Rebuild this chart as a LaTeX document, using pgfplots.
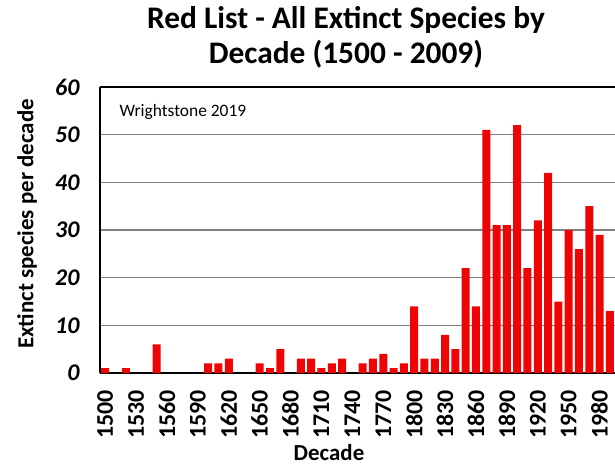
\documentclass[border=0pt]{standalone}
\usepackage{fontspec}
\setmainfont{Carlito}
\usepackage{pgfplots}
\pgfplotsset{compat=1.18}
\definecolor{barred}{RGB}{238,4,4}
\definecolor{gridgray}{RGB}{128,128,128}
\begin{document}
\begin{tikzpicture}
\begin{axis}[
  at={(0,0)}, anchor=south west,
  scale only axis,
  width=515bp, height=286bp,
  xmin=-0.5, xmax=49.5,
  ymin=0, ymax=60,
  ytick={0,10,...,60},
  xtick={0,3,...,48},
  xticklabels={1500,1530,1560,1590,1620,1650,1680,1710,1740,1770,1800,1830,1860,1890,1920,1950,1980},
  /pgf/number format/assume math mode=true,
  axis x line*=bottom, axis y line*=left,
  axis line style={black, line width=1.4bp, -},
  ymajorgrids, grid style={gridgray, line width=1.2bp},
  major tick length=0pt,
  xticklabel style={rotate=90, anchor=east, font=\fontsize{24}{24}\selectfont\bfseries, xshift=-14bp},
  yticklabel style={anchor=east, font=\fontsize{24}{24}\selectfont\bfseries\itshape, xshift=-17bp},
  ybar, bar width=8bp, bar shift=0pt,
  clip=false,
]
\addplot[fill=barred, draw=none] coordinates {
(0,1) (2,1) (5,6) (10,2) (11,2) (12,3) (15,2) (16,1) (17,5)
(19,3) (20,3) (21,1) (22,2) (23,3) (25,2) (26,3) (27,4) (28,1) (29,2)
(30,14) (31,3) (32,3) (33,8) (34,5) (35,22) (36,14) (37,51) (38,31) (39,31)
(40,52) (41,22) (42,32) (43,42) (44,15) (45,30) (46,26) (47,35) (48,29) (49,13)
};
\draw[black, line width=1.4bp] (rel axis cs:0,1) -- (rel axis cs:1,1);
\end{axis}
\node[font=\fontsize{31.5}{35}\selectfont\bfseries, align=center] at (246bp,336bp) {Red List - All Extinct Species by\\Decade (1500 - 2009)};
\node[font=\fontsize{17.5}{20}\selectfont, anchor=west] at (16bp,261bp) {Wrightstone 2019};
\node[font=\fontsize{23}{26}\selectfont\bfseries, rotate=90] at (-73bp,149bp) {Extinct species per decade};
\node[font=\fontsize{23}{26}\selectfont\bfseries, inner sep=1bp] at (229bp,-80bp) {Decade};
\pgfresetboundingbox
\useasboundingbox (-100bp,-92bp) rectangle (515bp,373bp);
\end{tikzpicture}
\end{document}
